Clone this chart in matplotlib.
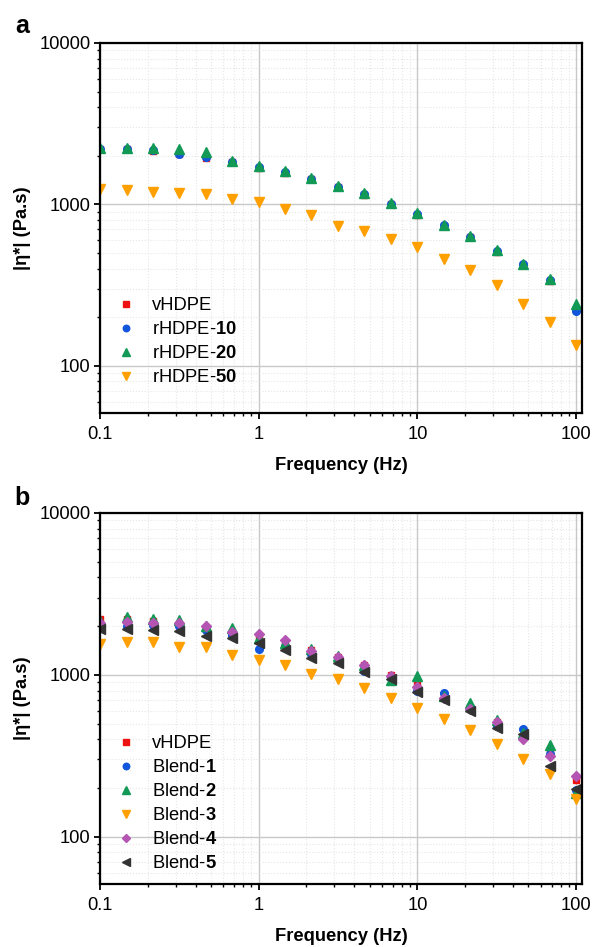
import matplotlib
matplotlib.use("Agg")
import matplotlib.pyplot as plt
from matplotlib.ticker import LogLocator, NullFormatter

plt.rcParams['font.family'] = ['Liberation Sans', 'DejaVu Sans']
plt.rcParams['mathtext.fontset'] = 'custom'
plt.rcParams['mathtext.rm'] = 'Liberation Sans'
plt.rcParams['mathtext.bf'] = 'Liberation Sans:bold'

freq = [0.1, 0.147, 0.215, 0.316, 0.464, 0.681, 1, 1.47, 2.15, 3.16,
        4.64, 6.81, 10, 14.7, 21.5, 31.6, 46.4, 68.1, 100]

# panel a
vhdpe = [2200, 2200, 2150, 2050, 1950, 1830, 1680, 1570, 1430, 1280,
         1150, 1000, 860, 735, 625, 510, 420, 335, 225]
rhdpe10 = [2200, 2200, 2180, 2060, 1970, 1840, 1700, 1590, 1440, 1290,
           1160, 1005, 870, 740, 630, 515, 425, 338, 217]
rhdpe20 = [2230, 2220, 2220, 2200, 2120, 1850, 1720, 1600, 1450, 1300,
           1170, 1015, 885, 750, 640, 525, 430, 345, 242]
rhdpe50 = [1247, 1235, 1200, 1180, 1167, 1081, 1040, 942, 861, 736,
           686, 611, 548, 458, 393, 318, 242, 187, 135]

# panel b
blend1 = [1990, 2015, 2040, 2000, 1880, 1770, 1445, 1517, 1349, 1250,
          1059, 960, 794, 771, 630, 480, 462, 325, 193]
blend2 = [2150, 2290, 2200, 2187, 2000, 1950, 1700, 1580, 1450, 1300,
          1150, 931, 980, 740, 670, 527, 440, 366, 186]
blend3 = [1553, 1592, 1592, 1496, 1496, 1328, 1239, 1153, 1010, 940,
          828, 718, 622, 532, 457, 375, 302, 245, 171]
blend4 = [2104, 2133, 2104, 2104, 2015, 1834, 1791, 1644, 1413, 1298,
          1148, 986, 839, 718, 614, 508, 401, 313, 238]
blend5 = [1923, 1914, 1897, 1870, 1750, 1683, 1567, 1427, 1268, 1191,
          1038, 941, 788, 701, 600, 469, 431, 272, 197]

red, blue, green = "#ee1111", "#1155dd", "#119955"
orange, purple, dark = "#ffa000", "#b455b4", "#333333"
fs = 13.2


def style_axes(ax):
    ax.set_xscale("log")
    ax.set_yscale("log")
    ax.set_xlim(0.1, 109)
    ax.set_ylim(51, 10000)
    ax.set_xticks([0.1, 1, 10, 100], ["0.1", "1", "10", "100"])
    ax.set_yticks([100, 1000, 10000], ["100", "1000", "10000"])
    ax.xaxis.set_minor_locator(LogLocator(base=10, subs=range(2, 10)))
    ax.yaxis.set_minor_locator(LogLocator(base=10, subs=range(2, 10)))
    ax.xaxis.set_minor_formatter(NullFormatter())
    ax.yaxis.set_minor_formatter(NullFormatter())
    ax.grid(True, which="major", color="#c8c8c8", lw=1.0, ls="-")
    ax.grid(True, which="minor", color="#e6e6e6", lw=0.8, ls=":")
    ax.set_axisbelow(True)
    for s in ax.spines.values():
        s.set_linewidth(1.6)
    ax.tick_params(which="major", direction="out", length=4.5, width=1.3,
                   labelsize=fs)
    ax.tick_params(axis="x", which="major", pad=5)
    ax.tick_params(axis="y", which="major", pad=2.5)
    ax.tick_params(which="minor", direction="out", length=2.5, width=1.0)
    ax.set_xlabel("Frequency (Hz)", fontsize=fs, fontweight="bold", labelpad=10)
    ax.set_ylabel("|η*| (Pa.s)", fontsize=fs, fontweight="bold", labelpad=6)


fig = plt.figure(figsize=(5.93, 9.47), dpi=100)
ax1 = fig.add_axes([0.1686, 0.5639, 0.8129, 0.3907])
ax2 = fig.add_axes([0.1686, 0.0665, 0.8129, 0.3918])

ms = 5.5
ax1.plot(freq, vhdpe, "s", color=red, ms=ms - 0.5, label="vHDPE")
ax1.plot(freq, rhdpe10, "o", color=blue, ms=ms, label=r"rHDPE-$\mathbf{10}$")
ax1.plot(freq, rhdpe20, "^", color=green, ms=ms + 1, label=r"rHDPE-$\mathbf{20}$")
ax1.plot(freq, rhdpe50, "v", color=orange, ms=ms + 1, label=r"rHDPE-$\mathbf{50}$")

ax2.plot(freq, vhdpe, "s", color=red, ms=ms - 0.5, label="vHDPE")
ax2.plot(freq, blend1, "o", color=blue, ms=ms, label=r"Blend-$\mathbf{1}$")
ax2.plot(freq, blend2, "^", color=green, ms=ms + 1, label=r"Blend-$\mathbf{2}$")
ax2.plot(freq, blend3, "v", color=orange, ms=ms + 1, label=r"Blend-$\mathbf{3}$")
ax2.plot(freq, blend4, "D", color=purple, ms=ms - 0.5, label=r"Blend-$\mathbf{4}$")
ax2.plot(freq, blend5, "<", color=dark, ms=ms + 1, label=r"Blend-$\mathbf{5}$")

for ax, y0 in ((ax1, 0.072), (ax2, 0.032)):
    style_axes(ax)
    ax.legend(loc="lower left", frameon=False, fontsize=fs, handlelength=1.0,
              handletextpad=0.9, labelspacing=0.38, borderaxespad=0,
              borderpad=0, markerscale=0.85, bbox_to_anchor=(0.035, y0))

fig.text(0.025, 0.965, "a", fontsize=18, fontweight="bold")
fig.text(0.025, 0.467, "b", fontsize=18, fontweight="bold")

fig.savefig("out.png", dpi=100)
